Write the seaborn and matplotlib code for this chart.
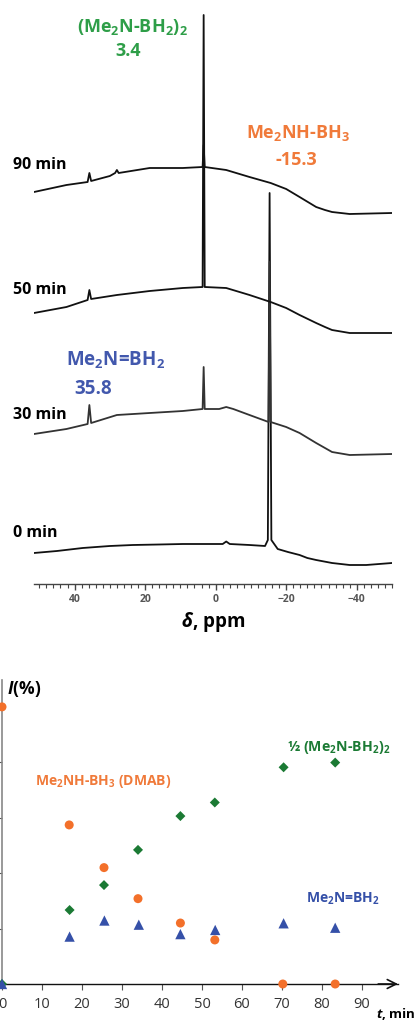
import numpy as np
import pandas as pd
import matplotlib
matplotlib.use("Agg")
import matplotlib.pyplot as plt
import seaborn as sns

# ---------------- data: 11B NMR spectra (ppm, intensity relative to own start) ----------------
spec_labels = ["0 min", "30 min", "50 min", "90 min"]

ppm_0 = [51.5, 45, 37.7, 30, 23.5, 16, 9.3, 0, -2, -3, -4, -9.6, -14.0, -14.8, -15.3, -15.8, -17.6, -20.5, -23.8, -26, -28.5, -33, -38, -42.7, -50]
int_0 = [0, 2, 5, 7, 8, 8.5, 9, 9, 9, 11.5, 9, 8, 7, 13, 360, 13, 4, 1, -2, -5, -7, -10, -12, -12, -10]

ppm_30 = [51.5, 42.3, 36.3, 35.8, 35.3, 28, 18.7, 9.3, 3.7, 3.4, 3.1, -1, -3, -5, -9.6, -15.0, -15.3, -15.6, -20, -23.8, -28.5, -31, -33, -38, -50]
int_30 = [0, 5, 10, 29, 11, 19, 21, 23, 25, 67, 25, 25, 27, 25, 19, 12, 172, 12, 7, 1, -9, -14, -18, -21, -20]

ppm_50 = [51.5, 42.3, 36.3, 35.8, 35.3, 28, 18.7, 9.3, 3.7, 3.4, 3.1, -3, -9.6, -15.6, -20, -23.8, -28.5, -31, -33, -38, -50]
int_50 = [0, 6, 13, 23, 14, 18, 22, 25, 26, 298, 26, 25, 18, 11, 5, -2, -10, -14, -17, -20, -20]

ppm_90 = [51.5, 42.3, 36.3, 35.8, 35.3, 30, 28.5, 28, 27.5, 18.7, 9.3, 3.7, 3.4, 3.1, -3, -9.6, -15.6, -20, -23.8, -28.5, -31, -33, -38, -50]
int_90 = [0, 7, 10, 19, 11, 16, 19, 22, 19, 24, 24, 25, 47, 25, 22, 15, 9, 3, -5, -15, -18, -20, -22, -21]

# ---------------- data: relative intensities vs time ----------------
t_dmab = [0, 16.8, 25.5, 34.0, 44.6, 53.2, 70.2, 83.3]
i_dmab = [100, 57.4, 42.0, 30.8, 22.0, 15.9, 0, 0]

t_dimer = [0, 16.9, 25.5, 34.0, 44.6, 53.2, 70.4, 83.3]
i_dimer = [0, 26.7, 35.7, 48.4, 60.6, 65.5, 78.2, 79.9]

t_mono = [0, 16.9, 25.6, 34.2, 44.6, 53.3, 70.4, 83.3]
i_mono = [0, 17.1, 22.9, 21.4, 18.0, 19.5, 21.9, 20.3]

time_ticks = [0, 10, 20, 30, 40, 50, 60, 70, 80, 90]
ppm_ticks = [40, 20, 0, -20, -40]

# ---------------- style ----------------
sns.set_theme(style="white")
plt.rcParams["font.family"] = ["Open Sans", "DejaVu Sans"]
plt.rcParams["mathtext.fontset"] = "custom"
plt.rcParams["mathtext.rm"] = "Open Sans"
plt.rcParams["mathtext.bf"] = "Open Sans:bold"
plt.rcParams["mathtext.it"] = "Open Sans:italic:bold"

ORANGE = "#f3702a"
GREEN_M = "#1b7a34"
BLUE = "#3550a8"
GREEN_T = "#2e9e48"
ORANGE_T = "#f07a3a"
BLUE_T = "#4258ad"

W, H = 416, 1022
fig = plt.figure(figsize=(W / 100, H / 100), dpi=100)


def fx(px):
    return px / W


def fy(py):
    return 1 - py / H


# ---------------- top: stacked spectra ----------------
ax1 = fig.add_axes([fx(34), fy(584), fx(392) - fx(34), fy(0) - fy(584)])
ax1.patch.set_alpha(0)
offsets = [31, 150, 271, 392]
colors = ["#111111", "#333333", "#111111", "#111111"]
spectra = [(ppm_0, int_0), (ppm_30, int_30), (ppm_50, int_50), (ppm_90, int_90)]
for (p, v), off, c in zip(spectra, offsets, colors):
    df = pd.DataFrame({"ppm": p, "I": np.array(v) + off})
    sns.lineplot(data=df, x="ppm", y="I", sort=False, estimator=None,
                 color=c, lw=1.3, ax=ax1)

ax1.set_xlim(51.5, -50)
ax1.set_ylim(0, 584)
for s in ["top", "left", "right"]:
    ax1.spines[s].set_visible(False)
ax1.spines["bottom"].set_color("#444444")
ax1.spines["bottom"].set_linewidth(1.0)
ax1.set_yticks([])
ax1.set_xticks(ppm_ticks)
ax1.set_xticks(np.arange(50, -51, -2), minor=True)
ax1.tick_params(axis="x", which="major", direction="out", length=4, width=1,
                color="#444444", labelsize=7.5, labelcolor="#555555", pad=3, bottom=True)
ax1.tick_params(axis="x", which="minor", direction="out", length=3, width=0.8,
                color="#444444", bottom=True)
for lab in ax1.get_xticklabels():
    lab.set_fontweight("bold")
ax1.set_xlabel("")
ax1.set_ylabel("")

fig.text(fx(213), fy(622), r"$\mathit{\delta}$, ppm", ha="center", va="center",
         fontsize=13.5, fontweight="bold", color="black")

for lab, ypix in zip(["90 min", "50 min", "30 min", "0 min"], [165, 290, 415, 533]):
    fig.text(fx(13), fy(ypix), lab, ha="left", va="center", fontsize=11.5,
             fontweight="bold", color="black")

fig.text(fx(132), fy(27), r"(Me$_\mathbf{2}$N-BH$_\mathbf{2}$)$_\mathbf{2}$", ha="center", va="center",
         fontsize=13, fontweight="bold", color=GREEN_T)
fig.text(fx(128), fy(51), "3.4", ha="center", va="center",
         fontsize=13, fontweight="bold", color=GREEN_T)
fig.text(fx(298), fy(133), r"Me$_\mathbf{2}$NH-BH$_\mathbf{3}$", ha="center", va="center",
         fontsize=13, fontweight="bold", color=ORANGE_T)
fig.text(fx(296), fy(160), "-15.3", ha="center", va="center",
         fontsize=13, fontweight="bold", color=ORANGE_T)
fig.text(fx(116), fy(360), r"Me$_\mathbf{2}$N=BH$_\mathbf{2}$", ha="center", va="center",
         fontsize=13.5, fontweight="bold", color=BLUE_T)
fig.text(fx(93), fy(389), "35.8", ha="center", va="center",
         fontsize=13.5, fontweight="bold", color=BLUE_T)

# ---------------- bottom: intensities vs time ----------------
ax2 = fig.add_axes([fx(2), fy(984), fx(398) - fx(2), fy(680) - fy(984)])
ax2.patch.set_alpha(0)
df_pts = pd.concat([
    pd.DataFrame({"t": t_dimer, "I": i_dimer, "sp": "dimer"}),
    pd.DataFrame({"t": t_dmab, "I": i_dmab, "sp": "dmab"}),
    pd.DataFrame({"t": t_mono, "I": i_mono, "sp": "mono"}),
], ignore_index=True)
sns.scatterplot(data=df_pts, x="t", y="I", hue="sp", style="sp",
                palette={"dimer": GREEN_M, "dmab": ORANGE, "mono": BLUE},
                markers={"dimer": "D", "dmab": "o", "mono": "^"},
                size="sp", sizes={"dimer": 26, "dmab": 42, "mono": 55},
                edgecolor="none", linewidth=0, legend=False, clip_on=False,
                zorder=5, ax=ax2)

ax2.set_xlim(0, 99)
ax2.set_ylim(0, 109.7)
ax2.spines["top"].set_visible(False)
ax2.spines["right"].set_visible(False)
ax2.spines["left"].set_color("#888888")
ax2.spines["left"].set_linewidth(1.2)
ax2.spines["bottom"].set_color("#111111")
ax2.spines["bottom"].set_linewidth(1.0)
ax2.annotate("", xy=(1.0, 0), xycoords="axes fraction", xytext=(0.95, 0),
             arrowprops=dict(arrowstyle="->", color="#111111", lw=1.2,
                             mutation_scale=16, shrinkA=0, shrinkB=0))
ax2.set_xticks(time_ticks)
ax2.set_yticks([20, 40, 60, 80, 100])
ax2.set_yticklabels([])
ax2.tick_params(axis="x", direction="out", length=4, width=0.8, color="#555555",
                labelsize=10.5, labelcolor="#333333", pad=5, bottom=True)
ax2.tick_params(axis="y", direction="out", length=3, width=0.8, color="#555555", left=True)
ax2.set_xlabel("")
ax2.set_ylabel("")

fig.text(fx(7), fy(689), r"$\mathit{I}$(%)", ha="left", va="center",
         fontsize=12.5, fontweight="bold", color="black")
fig.text(fx(376), fy(1014), r"$\mathit{t}$, min", ha="left", va="center",
         fontsize=9.5, fontweight="bold", color="black")
fig.text(fx(35), fy(781), r"Me$_\mathbf{2}$NH-BH$_\mathbf{3}$ (DMAB)", ha="left", va="center",
         fontsize=10, fontweight="bold", color=ORANGE_T)
fig.text(fx(287), fy(747), r"½ (Me$_\mathbf{2}$N-BH$_\mathbf{2}$)$_\mathbf{2}$", ha="left", va="center",
         fontsize=10.2, fontweight="bold", color=GREEN_M)
fig.text(fx(306), fy(899), r"Me$_\mathbf{2}$N=BH$_\mathbf{2}$", ha="left", va="center",
         fontsize=10, fontweight="bold", color=BLUE)

fig.savefig("out.png", dpi=100)
